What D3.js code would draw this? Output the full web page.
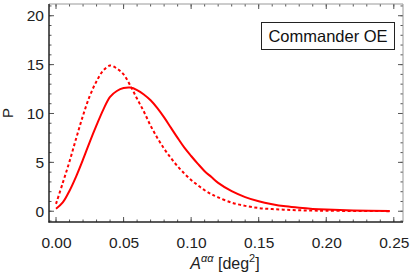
<!DOCTYPE html>
<html lang="en">
<head>
<meta charset="utf-8">
<title></title>
<style>
  body, html {
    margin: 0;
    padding: 0;
    background: #fff;
    font-family: "Liberation Sans", Arial, Helvetica, sans-serif;
  }
  .tick text { font-size: 15.5px; fill: #222; }
</style>
</head>
<body>
<svg></svg>
<script src="https://d3js.org/d3.v7.min.js"></script>
<script>

  // values
  let xs = [0, 0.005, 0.01, 0.015, 0.02, 0.025, 0.03, 0.035, 0.04, 0.045, 0.05, 0.055, 0.06, 0.065, 0.07,
            0.075, 0.08, 0.085, 0.09, 0.095, 0.10, 0.105, 0.11, 0.115, 0.12, 0.13, 0.14, 0.15, 0.16,
            0.17, 0.18, 0.19, 0.20, 0.22, 0.247];
  let solid = [0.25, 0.9, 2.1, 3.6, 5.3, 7.1, 8.8, 10.4, 11.7, 12.3, 12.6, 12.65, 12.4, 11.95, 11.35,
               10.55, 9.6, 8.55, 7.5, 6.5, 5.65, 4.85, 4.1, 3.5, 2.9, 2.05, 1.45, 1.02, 0.72,
               0.5, 0.35, 0.24, 0.17, 0.08, 0.03];
  let dashed = [0.75, 2.9, 5.1, 7.5, 9.8, 11.8, 13.3, 14.4, 14.9, 14.6, 14.0, 12.85, 11.5, 10.2, 8.75,
                7.5, 6.4, 5.45, 4.6, 3.85, 3.2, 2.65, 2.15, 1.75, 1.42, 0.88, 0.55, 0.33, 0.22,
                0.15, 0.1, 0.07, 0.05, 0.03, 0.01];
  let xTicks = [0, 0.05, 0.10, 0.15, 0.20, 0.25];
  let yTicks = [0, 5, 10, 15, 20];
  let legendLabel = "Commander OE";

  let w = 413, h = 275;
  let mLeft = 49, mRight = 403, mTop = 4, mBottom = 222;

  let svg = d3.select("svg").attr("width", w).attr("height", h);

  let x = d3.scaleLinear().domain([-0.0052, 0.2568]).range([mLeft, mRight]);
  let y = d3.scaleLinear().domain([-1.1, 21.2]).range([mBottom, mTop]);

  // minor ticks
  let xMinor = d3.range(0, 0.2501, 0.01);
  let yMinor = d3.range(-1, 21.01, 1);

  let g = svg.append("g");

  function addTicks(vals, scale, pos, dir, len, horiz) {
    g.selectAll(null).data(vals).enter().append("line")
      .attr("x1", d => horiz ? scale(d) : pos)
      .attr("x2", d => horiz ? scale(d) : pos + dir * len)
      .attr("y1", d => horiz ? pos : scale(d))
      .attr("y2", d => horiz ? pos + dir * len : scale(d))
      .attr("stroke", "#555")
      .attr("stroke-width", 1);
  }
  // bottom / top
  addTicks(xMinor, x, mBottom, -1, 2.5, true);
  addTicks(xTicks, x, mBottom, -1, 5, true);
  addTicks(xMinor, x, mTop, 1, 2.5, true);
  addTicks(xTicks, x, mTop, 1, 5, true);
  // left / right
  addTicks(yMinor, y, mLeft, 1, 2.5, false);
  addTicks(yTicks, y, mLeft, 1, 5, false);
  addTicks(yMinor, y, mRight, -1, 2.5, false);
  addTicks(yTicks, y, mRight, -1, 5, false);

  // frame
  g.append("line").attr("x1", mLeft).attr("x2", mRight).attr("y1", mTop).attr("y2", mTop)
    .attr("stroke", "#999").attr("stroke-width", 1);
  g.append("line").attr("x1", mRight).attr("x2", mRight).attr("y1", mTop).attr("y2", mBottom)
    .attr("stroke", "#999").attr("stroke-width", 1);
  g.append("line").attr("x1", mLeft).attr("x2", mLeft).attr("y1", mTop).attr("y2", mBottom + 0.5)
    .attr("stroke", "#222").attr("stroke-width", 1.5);
  g.append("line").attr("x1", mLeft - 0.5).attr("x2", mRight).attr("y1", mBottom).attr("y2", mBottom)
    .attr("stroke", "#222").attr("stroke-width", 1.5);

  // tick labels
  let xAxis = svg.append("g")
    .attr("transform", `translate(0,${mBottom})`)
    .call(d3.axisBottom(x).tickValues(xTicks).tickFormat(d3.format(".2f")).tickSize(0).tickPadding(15));
  xAxis.select(".domain").remove();

  let yAxis = svg.append("g")
    .attr("transform", `translate(${mLeft},0)`)
    .call(d3.axisLeft(y).tickValues(yTicks).tickFormat(d3.format("d")).tickSize(0).tickPadding(5));
  yAxis.select(".domain").remove();

  // curves
  let data1 = xs.map((v, i) => [v, solid[i]]);
  let data2 = xs.map((v, i) => [v, dashed[i]]);
  let line = d3.line().x(d => x(d[0])).y(d => y(d[1])).curve(d3.curveCatmullRom.alpha(0.5));

  svg.append("path").datum(data2)
    .attr("d", line).attr("fill", "none")
    .attr("stroke", "#ff0000").attr("stroke-width", 2)
    .attr("stroke-dasharray", "3,2.5");

  svg.append("path").datum(data1)
    .attr("d", line).attr("fill", "none")
    .attr("stroke", "#ff0000").attr("stroke-width", 2);

  // axis labels
  let xl = svg.append("text")
    .attr("x", 225).attr("y", 269)
    .attr("text-anchor", "middle")
    .style("font-size", "16px").style("fill", "#222");
  xl.append("tspan").style("font-style", "italic").text("A");
  xl.append("tspan").attr("dy", -7).style("font-size", "11px").style("font-style", "italic").text("αα");
  xl.append("tspan").attr("dy", 7).text(" [deg");
  xl.append("tspan").attr("dy", -7).style("font-size", "11px").text("2");
  xl.append("tspan").attr("dy", 7).text("]");

  svg.append("text")
    .attr("transform", "translate(13,113) rotate(-90)")
    .attr("text-anchor", "middle")
    .style("font-size", "15px").style("fill", "#222")
    .text("P");

  // legend box
  svg.append("rect")
    .attr("x", 261.5).attr("y", 22.5).attr("width", 133).attr("height", 27)
    .attr("fill", "#fff").attr("stroke", "#222").attr("stroke-width", 1);
  svg.append("text")
    .attr("x", 328).attr("y", 41.5)
    .attr("text-anchor", "middle")
    .style("font-size", "16.5px").style("fill", "#111")
    .text(legendLabel);

</script>
</body>
</html>
